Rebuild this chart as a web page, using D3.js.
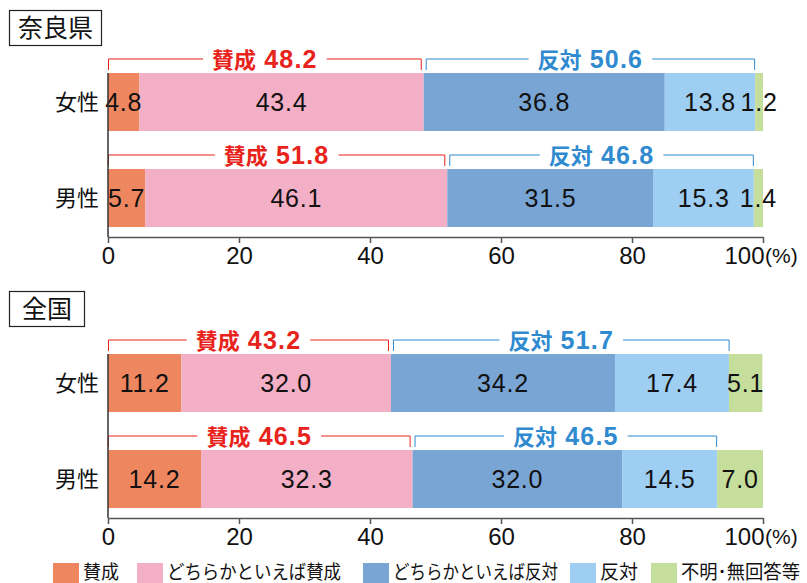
<!DOCTYPE html>
<html>
<head>
<meta charset="utf-8">
<script src="https://cdn.jsdelivr.net/npm/d3@7"></script>
<style>
  body { margin: 0; background: #fff; }
  text { font-family: "Liberation Sans", "Noto Sans CJK JP", sans-serif; }
  .jp { font-family: "Noto Sans CJK JP", sans-serif; }
</style>
</head>
<body>
<div class="chart"></div>
<script>
// data
const regions = ['奈良県', '全国']
const genders = ['女性', '男性']
const categories = ['賛成', 'どちらかといえば賛成', 'どちらかといえば反対', '反対', '不明･無回答等']
const naraValues = [[4.8, 43.4, 36.8, 13.8, 1.2], [5.7, 46.1, 31.5, 15.3, 1.4]]
const zenkokuValues = [[11.2, 32.0, 34.2, 17.4, 5.1], [14.2, 32.3, 32.0, 14.5, 7.0]]
const naraTotals = [[48.2, 50.6], [51.8, 46.8]]
const zenkokuTotals = [[43.2, 51.7], [46.5, 46.5]]
const tickValues = [0, 20, 40, 60, 80, 100]

const colors = ['#ee8760', '#f2afc5', '#79a5d5', '#9ecef1', '#c6de9c']
const totalColors = ['#e8231b', '#2f8ad0']
const totalNames = ['賛成', '反対']

const width = 807, height = 583
const svg = d3.select('.chart').append('svg')
  .attr('width', width).attr('height', height)

const x = d3.scaleLinear().domain([0, 100]).range([108, 763])
const y = d3.scaleBand().domain(genders).range([73, 227])
  .paddingInner(0.396).paddingOuter(0)
const color = d3.scaleOrdinal().domain(categories).range(colors)

const panels = [
  { name: regions[0], values: naraValues, totals: naraTotals, dy: 0, boxW: 92 },
  { name: regions[1], values: zenkokuValues, totals: zenkokuTotals, dy: 281, boxW: 75 }
]

panels.forEach(p => {
  let g = svg.append('g').attr('transform', 'translate(0,' + p.dy + ')')

  // title box
  g.append('rect')
    .attr('x', 9.5).attr('y', 10.5).attr('width', p.boxW).attr('height', 35)
    .attr('fill', '#fff').attr('stroke', '#222').attr('stroke-width', 1.2)
  g.append('text').attr('class', 'jp')
    .attr('x', 9.5 + p.boxW / 2).attr('y', 37)
    .attr('text-anchor', 'middle').attr('font-size', 25)
    .attr('fill', '#111').text(p.name)

  genders.forEach((gender, i) => {
    let vals = p.values[i]
    let segs = vals.map((v, k) => ({
      cat: categories[k], v: v,
      x0: d3.sum(vals.slice(0, k)), x1: d3.sum(vals.slice(0, k + 1))
    }))
    let row = g.append('g')
    row.selectAll('rect').data(segs).enter().append('rect')
      .attr('x', d => x(d.x0))
      .attr('width', d => x(d.x1) - x(d.x0))
      .attr('y', y(gender)).attr('height', y.bandwidth())
      .attr('fill', d => color(d.cat))
    row.selectAll('text').data(segs).enter().append('text')
      .attr('x', d => (x(d.x0) + x(d.x1)) / 2)
      .attr('y', y(gender) + y.bandwidth() / 2 + 9)
      .attr('text-anchor', 'middle').attr('font-size', 25)
      .attr('letter-spacing', 0.8)
      .attr('fill', '#111')
      .text(d => d.v.toFixed(1))

    // category label
    g.append('text').attr('class', 'jp')
      .attr('x', 99).attr('y', y(gender) + y.bandwidth() / 2 + 8)
      .attr('text-anchor', 'end').attr('font-size', 22).attr('fill', '#111')
      .text(gender)

    // brackets
    let t = p.totals[i]
    let spans = [[0, t[0] - 0.3], [t[0] + 0.3, t[0] + t[1]]]
    let by = y(gender) - 14
    spans.forEach((s, k) => {
      let x0 = x(s[0]) + 0.5, x1 = x(s[1]) - 0.5
      g.append('path')
        .attr('d', 'M' + x0 + ',' + (by + 11) + 'V' + by + 'H' + x1 + 'V' + (by + 11))
        .attr('fill', 'none').attr('stroke', totalColors[k]).attr('stroke-width', 1)
      let gap = g.append('rect').attr('fill', '#fff')
      let label = g.append('text')
        .attr('x', (x0 + x1) / 2).attr('y', by + 8.5)
        .attr('text-anchor', 'middle').attr('font-size', 25)
        .attr('font-weight', 'bold').attr('fill', totalColors[k])
      label.append('tspan').attr('class', 'jp').attr('font-size', 22).text(totalNames[k])
      label.append('tspan').attr('letter-spacing', 1.2).text(' ' + t[k].toFixed(1))
      let bb = label.node().getBBox()
      gap.attr('x', bb.x - 9).attr('y', by - 2).attr('width', bb.width + 18).attr('height', 4)
    })
  })

  // y axis line
  g.append('line')
    .attr('x1', x(0)).attr('x2', x(0)).attr('y1', 73).attr('y2', 237)
    .attr('stroke', '#333').attr('stroke-width', 1.5)

  // x axis
  let axis = g.append('g').attr('transform', 'translate(0,237)')
    .call(d3.axisBottom(x).tickValues(tickValues).tickSize(6).tickSizeOuter(0).tickPadding(4))
  axis.select('.domain').attr('stroke', '#555').attr('stroke-width', 1.5)
  axis.selectAll('.tick line').attr('stroke', '#555').attr('stroke-width', 1.5)
  axis.selectAll('.tick text').attr('font-size', 24).attr('fill', '#111')
    .attr('font-family', '"Liberation Sans", sans-serif')
  axis.selectAll('.tick text').filter(d => d === 100)
    .attr('text-anchor', 'end').attr('x', 1)
  g.append('text')
    .attr('x', 765).attr('y', 263).attr('font-size', 21).attr('fill', '#111')
    .text('(%)')
})

// legend
const legendX = [53, 137, 363, 570, 651]
const legendW = [36, 174, 165, 38, 119]
const legend = svg.append('g')
legend.selectAll('rect').data(categories).enter().append('rect')
  .attr('x', (d, i) => legendX[i]).attr('y', 563)
  .attr('width', 26).attr('height', 20)
  .attr('fill', d => color(d))
legend.selectAll('text').data(categories).enter().append('text')
  .attr('class', 'jp')
  .attr('x', (d, i) => legendX[i] + 30).attr('y', 579)
  .attr('font-size', 19).attr('fill', '#111')
  .attr('textLength', (d, i) => legendW[i]).attr('lengthAdjust', 'spacingAndGlyphs')
  .text(d => d)
</script>
</body>
</html>
